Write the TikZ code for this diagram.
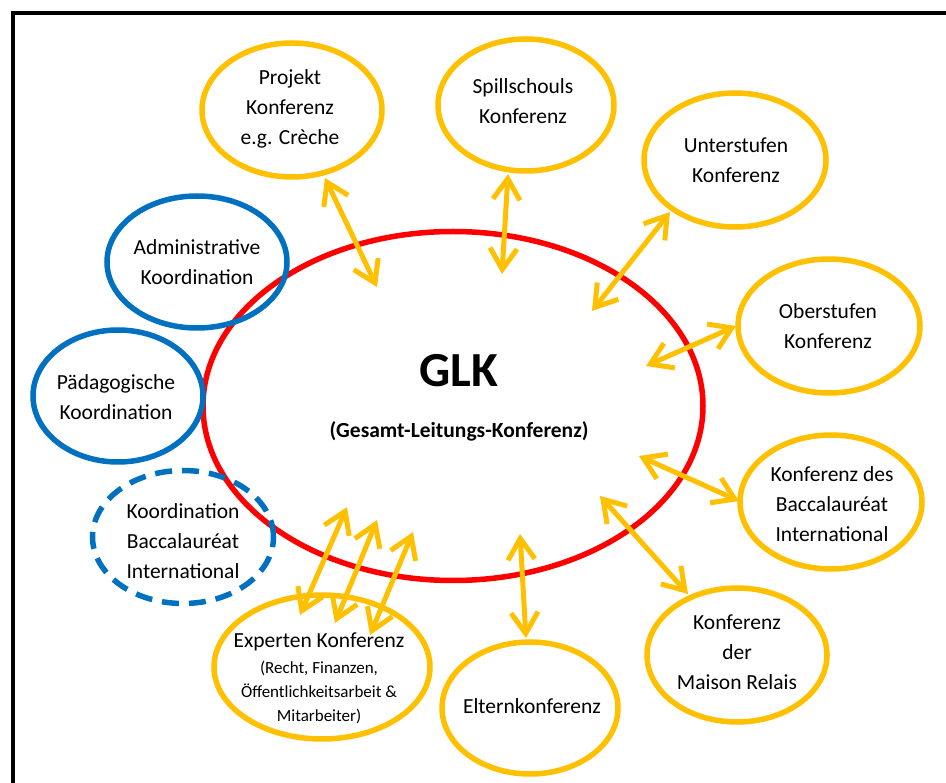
\documentclass[tikz,border=0pt]{standalone}
\usepackage{fontspec}
\setmainfont{Carlito}
\usetikzlibrary{shapes.geometric,arrows.meta}
\definecolor{gold}{HTML}{FFC000}
\definecolor{bblue}{HTML}{0070C0}
\definecolor{rred}{HTML}{FF0000}
\tikzset{
  x=1pt,y=-1pt,
  yell/.style={ellipse,draw=gold,line width=5.5pt,inner sep=0pt},
  blu/.style={ellipse,draw=bblue,line width=5.5pt,inner sep=0pt},
  txt/.style={align=center,inner sep=0pt,font=\fontsize{21.5}{30}\selectfont},
  dbl/.style={draw=gold,line width=5pt,
    {Straight Barb[length=21pt,width=27pt]}-{Straight Barb[length=21pt,width=27pt]}},
}
\newcommand{\mkell}[5]{\node[#1,minimum width=#4*2pt,minimum height=#5*2pt] (#2) at (#3) {};}
\begin{document}
\begin{tikzpicture}
\useasboundingbox (0,0) rectangle (946,783);
\clip (0,0) rectangle (946,783);
\fill[white] (0,0) rectangle (946,783);
\draw[line width=4pt] (13,13) rectangle (980,820);

% central ellipse
\node[ellipse,draw=rred,line width=5.5pt,minimum width=500pt,minimum height=349pt,inner sep=0pt] (glk) at (453,406) {};
\node[inner sep=0pt,font=\fontsize{49}{50}\selectfont\bfseries] (glkt) at (459,371) {GLK};
\node[inner sep=0pt,font=\fontsize{21.5}{24}\selectfont\bfseries] (glks) at (459,431) {(Gesamt-Leitungs-Konferenz)};

% yellow ellipses
\mkell{yell}{proj}{292,110}{90}{67}
\mkell{yell}{spill}{526,105}{88}{66}
\mkell{yell}{unter}{735,160}{91}{67}
\mkell{yell}{ober}{829,326}{91}{67}
\mkell{yell}{bacc}{831,502}{91}{67}
\mkell{yell}{mais}{737,655}{90}{67}
\mkell{yell}{elt}{530,708}{88}{66}
\mkell{yell}{exp}{322,667}{108}{72}

% blue ellipses
\mkell{blu}{adm}{197,262}{90}{66}
\mkell{blu}{paed}{118,396}{85}{66}
\node[ellipse,draw=bblue,line width=5.5pt,dash pattern=on 17pt off 10pt,inner sep=0pt,minimum width=181pt,minimum height=133pt] (kbi) at (183,537) {};

% texts
\node[txt] (projt) at (290,109) {Projekt\\Konferenz\\e.g. Crèche};
\node[txt] (spillt) at (523,101) {Spillschouls\\Konferenz};
\node[txt] (untert) at (736,160) {Unterstufen\\Konferenz};
\node[txt] (obert) at (828,326) {Oberstufen\\Konferenz};
\node[txt] (bacct) at (832,504) {Konferenz des\\Baccalauréat\\International};
\node[txt] (maist) at (737,652) {Konferenz\\der\\Maison Relais};
\node[txt] (eltt) at (532,706) {Elternkonferenz};
\node[txt] (admt) at (197,262) {Administrative\\Koordination};
\node[txt] (paedt) at (116,397) {Pädagogische\\Koordination};
\node[txt] (kbit) at (183,541) {Koordination\\Baccalauréat\\International};
\node[txt,anchor=base] (expt1) at (319,647) {Experten Konferenz};
\node[align=center,inner sep=0pt,font=\fontsize{17}{24}\selectfont,anchor=north] (expt2) at (319,661) {(Recht, Finanzen,\\Öffentlichkeitsarbeit \&\\Mitarbeiter)};

% arrow end points
\coordinate (a1a) at (325,178); \coordinate (a1b) at (377,287);
\coordinate (a2a) at (508,174); \coordinate (a2b) at (502,274);
\coordinate (a3a) at (670,212); \coordinate (a3b) at (592,311);
\coordinate (a4a) at (736,326); \coordinate (a4b) at (646,366);
\coordinate (a5a) at (639,456); \coordinate (a5b) at (739,501);
\coordinate (a6a) at (600,496); \coordinate (a6b) at (688,594);
\coordinate (a7a) at (520,534); \coordinate (a7b) at (526,638);
\coordinate (a8a) at (347,507); \coordinate (a8b) at (300,615);
\coordinate (a9a) at (377,520); \coordinate (a9b) at (335,623);
\coordinate (a10a) at (413,532); \coordinate (a10b) at (370,635);

\draw[dbl] (a1a) -- (a1b);
\draw[dbl] (a2a) -- (a2b);
\draw[dbl] (a3a) -- (a3b);
\draw[dbl] (a4a) -- (a4b);
\draw[dbl] (a5a) -- (a5b);
\draw[dbl] (a6a) -- (a6b);
\draw[dbl] (a7a) -- (a7b);
\draw[dbl] (a8a) -- (a8b);
\draw[dbl] (a9a) -- (a9b);
\draw[dbl] (a10a) -- (a10b);
\end{tikzpicture}
\end{document}
